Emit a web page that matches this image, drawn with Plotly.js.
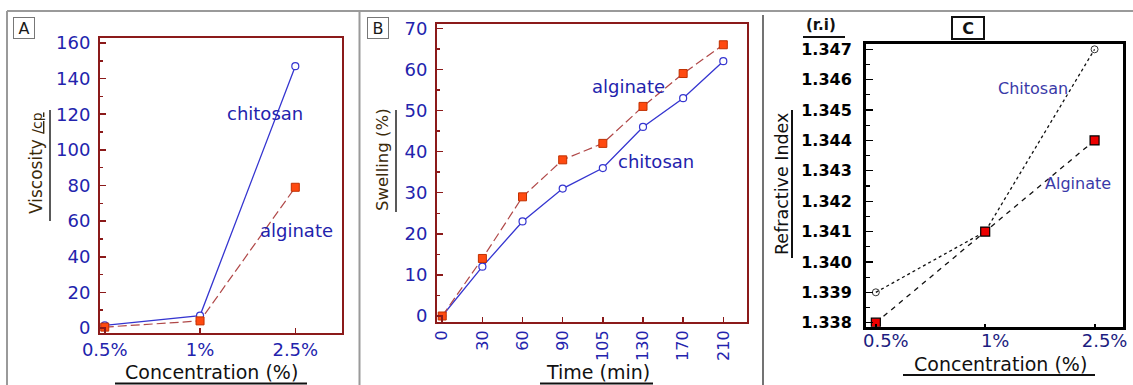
<!DOCTYPE html>
<html>
<head>
<meta charset="utf-8">
<script src="https://cdn.plot.ly/plotly-3.0.1.min.js"></script>
<style>html,body{margin:0;padding:0;background:#fff;}#chart{width:1133px;height:385px;}</style>
</head>
<body>
<div id="chart"></div>
<script>
// ---- data ----
const concCategories = ["0.5%", "1%", "2.5%"];
const viscosityChitosan = [1.5, 7, 147];
const viscosityAlginate = [0.5, 4, 79];

const timeCategories = ["0", "30", "60", "90", "105", "130", "170", "210"];
const swellingChitosan = [0, 12, 23, 31, 36, 46, 53, 62];
const swellingAlginate = [0, 14, 29, 38, 42, 51, 59, 66];

const refractiveChitosan = [1.339, 1.341, 1.347];
const refractiveAlginate = [1.338, 1.341, 1.344];

// ---- helpers (pixel -> paper) ----
const W = 1133, H = 385;
const px = x => x / W;
const py = y => 1 - y / H;

const FONT = "DejaVu Sans";
const BLUE = "#2323ad";
const RED = "#8b1a1a";

const traces = [
  {x: concCategories, y: viscosityChitosan, xaxis: "x", yaxis: "y", mode: "lines+markers",
   line: {color: "#3535d0", width: 1.3},
   marker: {symbol: "circle", size: 7, color: "#ffffff", line: {color: "#3535d0", width: 1.2}}},
  {x: concCategories, y: viscosityAlginate, xaxis: "x", yaxis: "y", mode: "lines+markers",
   line: {color: "#b04848", width: 1.2, dash: "9px,4px"},
   marker: {symbol: "square", size: 8, color: "#ff4a10", line: {color: "#c03000", width: 1}}},
  {x: timeCategories, y: swellingChitosan, xaxis: "x2", yaxis: "y2", mode: "lines+markers",
   line: {color: "#3535d0", width: 1.3},
   marker: {symbol: "circle", size: 7, color: "#ffffff", line: {color: "#3535d0", width: 1.2}}},
  {x: timeCategories, y: swellingAlginate, xaxis: "x2", yaxis: "y2", mode: "lines+markers",
   line: {color: "#b04848", width: 1.2, dash: "9px,4px"},
   marker: {symbol: "square", size: 8, color: "#ff4a10", line: {color: "#c03000", width: 1}}},
  {x: concCategories, y: refractiveChitosan, xaxis: "x3", yaxis: "y3", mode: "lines+markers",
   line: {color: "#111", width: 1.3, dash: "dot"},
   marker: {symbol: "circle-open", size: 7, color: "#333", line: {width: 1}}},
  {x: concCategories, y: refractiveAlginate, xaxis: "x3", yaxis: "y3", mode: "lines+markers",
   line: {color: "#111", width: 1.3, dash: "5px,5px"},
   marker: {symbol: "square", size: 9, color: "#ee0000", line: {color: "#000", width: 1.2}}}
];

const tickFontAB = {family: FONT, size: 18, color: BLUE};

const layout = {
  width: W, height: H,
  margin: {l: 0, r: 0, t: 0, b: 0},
  paper_bgcolor: "#fff", plot_bgcolor: "#fff",
  showlegend: false,
  font: {family: FONT},
  xaxis: {domain: [px(100), px(342)], anchor: "y", type: "category", range: [-0.05, 2.49],
    showline: true, mirror: true, linecolor: RED, linewidth: 2, showgrid: false, zeroline: false,
    ticks: "inside", ticklen: 5, tickcolor: RED, tickwidth: 1.5, tickfont: tickFontAB, ticklabelstandoff: -1},
  yaxis: {domain: [py(333), py(38)], anchor: "x", range: [-2.8, 162.8],
    showline: true, mirror: true, linecolor: RED, linewidth: 2, showgrid: false, zeroline: false,
    ticks: "inside", ticklen: 6, tickcolor: RED, tickwidth: 1.5, dtick: 20, tick0: 0,
    minor: {dtick: 10, ticks: "inside", ticklen: 3, tickcolor: RED, showgrid: false},
    tickfont: tickFontAB, ticklabelstandoff: 4},
  xaxis2: {domain: [px(437), px(747)], anchor: "y2", type: "category", range: [-0.13, 7.59],
    showline: true, mirror: true, linecolor: RED, linewidth: 2, showgrid: false, zeroline: false,
    ticks: "inside", ticklen: 5, tickcolor: RED, tickwidth: 1.5, tickangle: -90,
    tickfont: {family: FONT, size: 16, color: BLUE}, ticklabelstandoff: 0},
  yaxis2: {domain: [py(322), py(24)], anchor: "x2", range: [-1.46, 71.05],
    showline: true, mirror: true, linecolor: RED, linewidth: 2, showgrid: false, zeroline: false,
    ticks: "inside", ticklen: 6, tickcolor: RED, tickwidth: 1.5, dtick: 10, tick0: 0,
    minor: {dtick: 5, ticks: "inside", ticklen: 3, tickcolor: RED, showgrid: false},
    tickfont: tickFontAB, ticklabelstandoff: 4},
  xaxis3: {domain: [px(866), px(1123)], anchor: "y3", type: "category", range: [-0.09, 2.26],
    showline: true, mirror: true, linecolor: "#000", linewidth: 3, showgrid: false, zeroline: false,
    ticks: "inside", ticklen: 3, tickcolor: "#000", tickwidth: 2, ticklabelshift: 10,
    tickfont: {family: FONT, size: 18, color: "#1c1c80"}, ticklabelstandoff: -4},
  yaxis3: {domain: [py(326.7), py(44)], anchor: "x3", range: [1.337868, 1.347175],
    showline: true, mirror: true, linecolor: "#000", linewidth: 3, showgrid: false, zeroline: false,
    ticks: "inside", ticklen: 7, tickcolor: "#000", tickwidth: 1.2, dtick: 0.001, tick0: 1.338,
    tickformat: ".3f",
    minor: {dtick: 0.0005, ticks: "inside", ticklen: 4, tickcolor: "#000", showgrid: false},
    tickfont: {family: FONT, size: 16, color: "#000", weight: "bold"}, ticklabelstandoff: 8},
  annotations: [],
  shapes: []
};

function ann(x, y, text, font, extra) {
  layout.annotations.push(Object.assign({
    xref: "paper", yref: "paper", x: px(x), y: py(y), xanchor: "center", yanchor: "middle",
    text: text, showarrow: false, font: font
  }, extra || {}));
}
function line(x0, y0, x1, y1, color, width) {
  layout.shapes.push({type: "line", xref: "paper", yref: "paper",
    x0: px(x0), y0: py(y0), x1: px(x1), y1: py(y1), line: {color: color, width: width}});
}

// frame
line(7, 11, 1133, 11, "#9a9a9a", 2);
line(7, 11, 7, 385, "#9a9a9a", 2);
line(359.5, 11, 359.5, 385, "#9a9a9a", 2);
line(763, 15, 763, 385, "#444", 1.5);

// Panel A texts
ann(24, 28, "A", {family: FONT, size: 16, color: "#1a1a1a"}, {bordercolor: "#777", borderwidth: 1, borderpad: 2, width: 16, height: 16});
ann(36, 163, "Viscosity <span style='font-size:14px'><u>/cp</u></span>", {family: FONT, size: 17, color: "#3b2a0a"}, {textangle: -90});
line(50, 110, 50, 221, "#222", 1.5);
ann(211, 372, "Concentration (%)", {family: FONT, size: 19, color: "#111"});
line(115, 383.5, 307, 383.5, "#111", 2);
ann(265, 113, "chitosan", {family: FONT, size: 18, color: BLUE});
ann(296, 230, "alginate", {family: FONT, size: 18, color: BLUE});

// Panel B texts
ann(377.5, 28.5, "B", {family: FONT, size: 16, color: "#1a1a1a"}, {bordercolor: "#777", borderwidth: 1, borderpad: 2, width: 16, height: 16});
ann(382, 160, "Swelling (%)", {family: FONT, size: 16.5, color: "#3b2a0a"}, {textangle: -90});
line(396, 110, 396, 212, "#222", 1.5);
ann(598, 372, "Time (min)", {family: FONT, size: 19, color: "#111"});
line(540, 383.5, 653, 383.5, "#111", 2);
ann(628, 87, "alginate", {family: FONT, size: 18, color: BLUE});
ann(656, 162, "chitosan", {family: FONT, size: 18, color: BLUE});

// Panel C texts
ann(821, 25, "(r.i)", {family: FONT, size: 15, color: "#111", weight: "bold"});
line(803, 37, 845, 37, "#111", 2);
ann(967.5, 28.5, "C", {family: FONT, size: 16, color: "#111", weight: "bold"}, {bordercolor: "#111", borderwidth: 2, borderpad: 2, width: 26, height: 16});
ann(782, 184, "Refractive Index", {family: FONT, size: 17.5, color: "#111"}, {textangle: -90});
line(792, 110, 792, 258, "#111", 2);
ann(1000, 364, "Concentration (%)", {family: FONT, size: 19, color: "#111"});
line(903, 375, 1095, 375, "#111", 2);
ann(1033, 89, "Chitosan", {family: FONT, size: 16, color: "#3a3aa8"});
ann(1078, 184, "Alginate", {family: FONT, size: 16, color: "#3a3aa8"});

Plotly.newPlot("chart", traces, layout, {staticPlot: true, displayModeBar: false});
</script>
</body>
</html>
